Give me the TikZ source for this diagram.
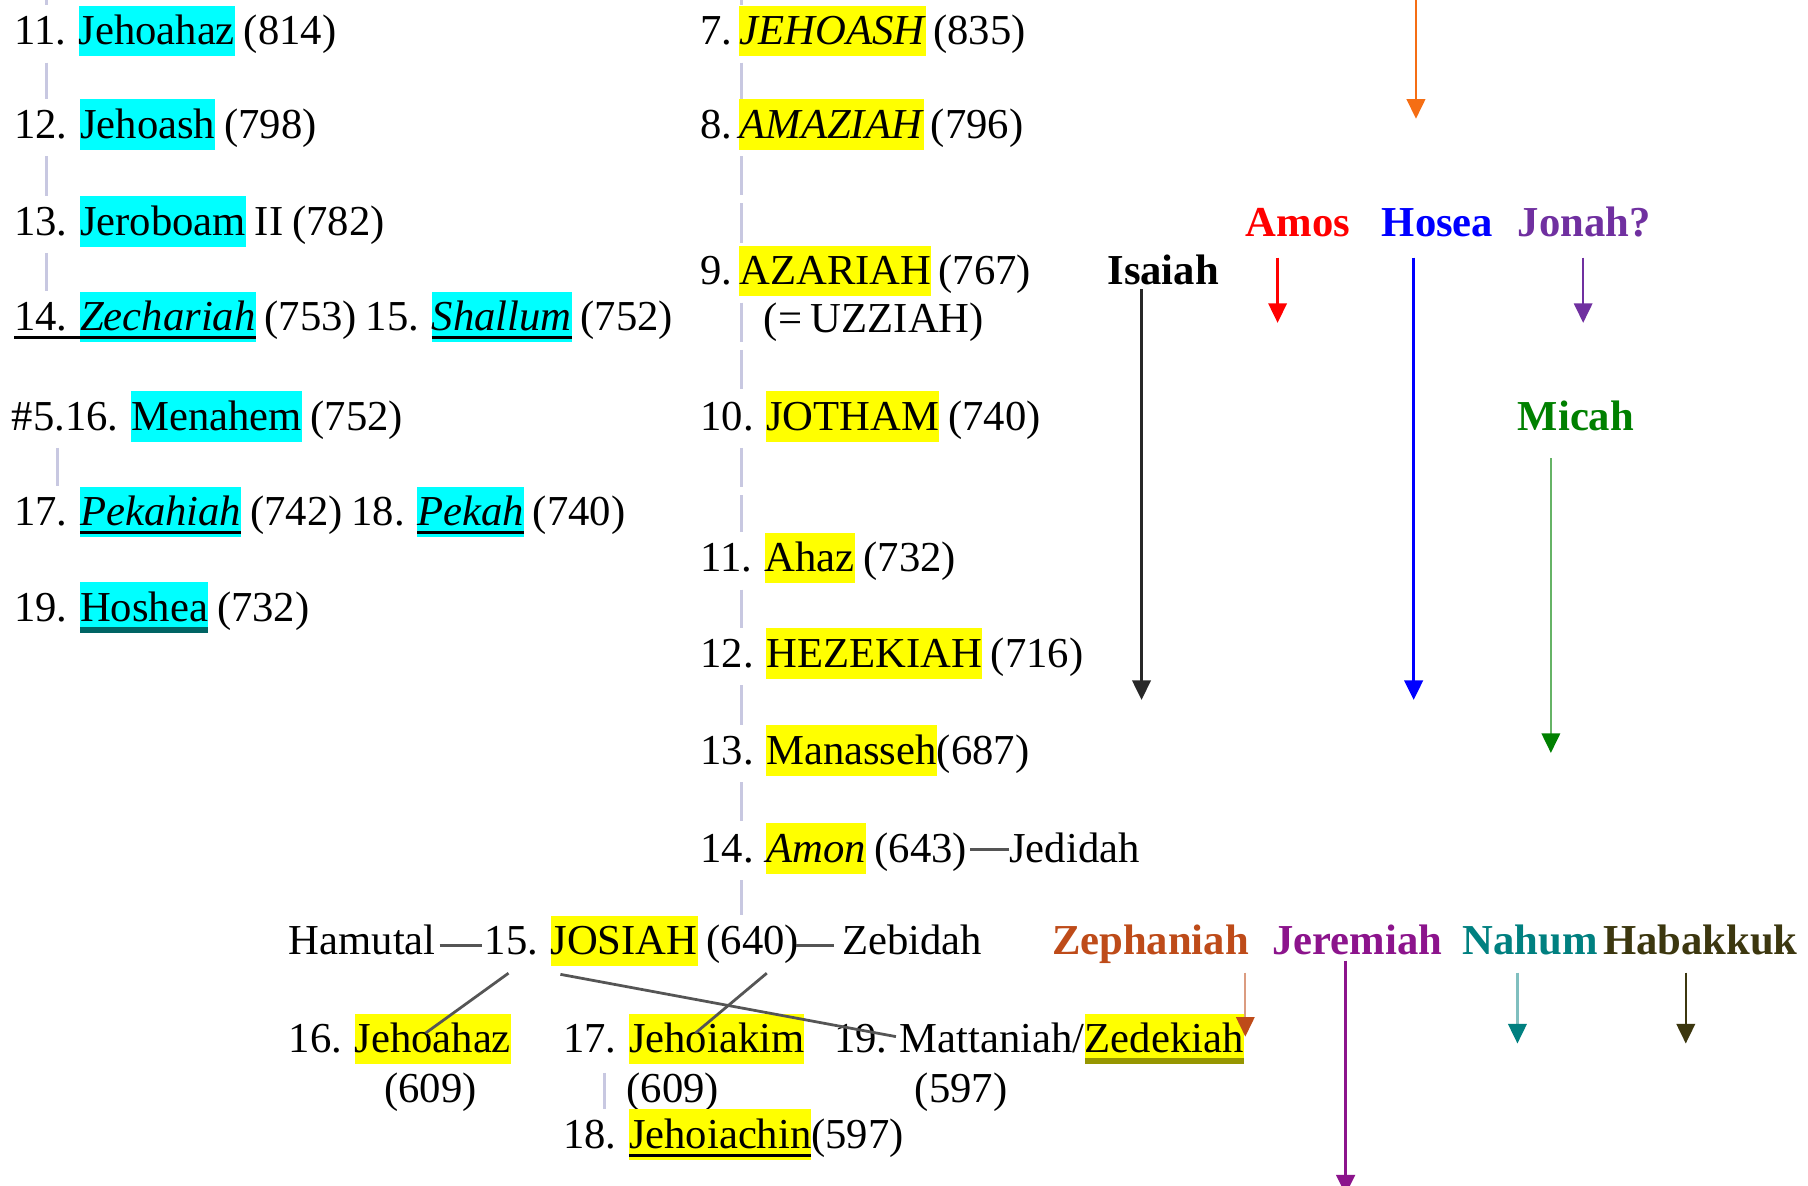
\documentclass[tikz,border=0pt]{standalone}
\usepackage{fontspec}
\setmainfont{Liberation Serif}[WordSpace=0.84]
\usetikzlibrary{arrows.meta,calc}
\definecolor{hlcyan}{RGB}{0,255,255}
\definecolor{hlyel}{RGB}{255,255,0}
\definecolor{spinec}{RGB}{200,200,225}
\definecolor{famc}{RGB}{85,85,85}
\definecolor{orangec}{RGB}{245,110,20}
\definecolor{amosc}{RGB}{255,0,0}
\definecolor{hoseac}{RGB}{0,0,255}
\definecolor{jonahc}{RGB}{112,48,160}
\definecolor{isaiahc}{RGB}{40,40,40}
\definecolor{micahc}{RGB}{0,128,0}
\definecolor{zephc}{RGB}{190,75,25}
\definecolor{jerc}{RGB}{140,20,140}
\definecolor{nahumc}{RGB}{0,128,128}
\definecolor{habc}{RGB}{60,55,15}
\definecolor{hosheaul}{RGB}{0,100,100}
\definecolor{zedul}{RGB}{150,150,0}
\newcommand\hlc[1]{{\setlength\fboxsep{0pt}\colorbox{hlcyan}{\rule[-5pt]{0pt}{22pt}#1}}}
\newcommand\hly[1]{{\setlength\fboxsep{0pt}\colorbox{hlyel}{\rule[-5pt]{0pt}{22pt}#1}}}
\newcommand\ulx[2]{\setbox0\hbox{#2}\copy0\llap{\textcolor{#1}{\rule[-3.6pt]{\wd0}{1.2pt}}}}
\newcommand\ulX[2]{\setbox0\hbox{#2}\copy0\llap{\textcolor{#1}{\rule[-4.8pt]{\wd0}{2.4pt}}}}
\begin{document}
\begin{tikzpicture}[x=0.5pt,y=-0.5pt,
  txt/.style={inner sep=0pt,anchor=base west,text height=17pt,text depth=5pt,font=\fontsize{18.5}{22}\selectfont},
  pro/.style={txt,font=\fontsize{18.5}{22}\selectfont\bfseries},
  spine/.style={draw=spinec,line width=1.4pt,dash pattern=on 17pt off 3.5pt,shorten <=2.5pt},
  kin/.style={draw=spinec,line width=1.4pt,shorten <=2.5pt},
  mline/.style={draw=famc,line width=1.2pt},
  tipb/.style={-{Triangle[width=8pt,length=8.5pt,#1]}},
  parrow/.style={line width=1pt,-{Triangle[width=8pt,length=8.5pt]}}
]
\useasboundingbox (0,0) rectangle (1568,1028);
\fill[white] (0,0) rectangle (1568,1028);

% spine x positions
\coordinate (sl) at (40,0);
\coordinate (sm) at (50,0);
\coordinate (sp) at (643,0);
\coordinate (sk) at (524,0);

% ---- Israel (left column)
\node[txt] (L11) at (12,39) {11. \hlc{Jehoahaz} (814)};
\node[txt] (L12) at (12,120) {12. \hlc{Jehoash} (798)};
\node[txt] (L13) at (12,204) {13. \hlc{Jeroboam} II (782)};
\node[txt] (L14) at (12,287) {\ulx{black}{14. \hlc{\textit{Zechariah}}} (753) 15. \ulx{black}{\hlc{\textit{Shallum}}} (752)};
\node[txt] (L16) at (10,373) {\#5.16. \hlc{Menahem} (752)};
\node[txt] (L17) at (12,456) {17. \ulx{black}{\hlc{\textit{Pekahiah}}} (742) 18. \ulx{black}{\hlc{\textit{Pekah}}} (740)};
\node[txt] (L19) at (12,539) {19. \ulX{hosheaul}{\hlc{Hoshea}} (732)};

\draw[kin,shorten <=0pt] (sl) -- (L11.north -| sl);
\draw[kin] (L11.south -| sl) -- (L12.north -| sl);
\draw[kin] (L12.south -| sl) -- (L13.north -| sl);
\draw[kin] (L13.south -| sl) -- (L14.north -| sl);
\draw[kin] (L16.south -| sm) -- (L17.north -| sm);

% ---- Judah (centre column)
\node[txt] (C7) at (607,39) {7.\,\hly{\textit{JEHOASH}}\,(835)};
\node[txt] (C8) at (607,120) {8.\,\hly{\textit{AMAZIAH}}\,(796)};
\node[txt] (C9) at (607,247) {9.\,\hly{AZARIAH}\,(767)};
\node[txt] (UZZ) at (662,288) {(= UZZIAH)};
\node[txt] (C10) at (607,373) {10. \hly{JOTHAM} (740)};
\node[txt] (C11) at (607,496) {11. \hly{Ahaz} (732)};
\node[txt] (C12) at (607,579) {12. \hly{HEZEKIAH} (716)};
\node[txt] (C13) at (607,663) {13. \hly{Manasseh}(687)};
\node[txt] (C14) at (607,748) {14. \hly{\textit{Amon}} (643)};
\node[txt] (Jed) at (875,748) {Jedidah};
\node[txt] (Ham) at (250,828) {Hamutal};
\node[txt] (J15) at (420,828) {15. \hly{JOSIAH} (640)};
\node[txt] (Zeb) at (730,828) {Zebidah};
\node[txt] (J16) at (250,913) {16. \hly{Jehoahaz}};
\node[txt] (J16y) at (333,956) {(609)};
\node[txt] (J17) at (488,913) {17. \hly{Jehoiakim}};
\node[txt] (J17y) at (543,956) {(609)};
\node[txt] (J18) at (488,996) {18. \ulx{black}{\hly{Jehoiachin}}(597)};
\node[txt] (J19) at (723,913) {19. Mattaniah/\ulX{zedul}{\hly{Zedekiah}}};
\node[txt] (J19y) at (793,956) {(597)};

\draw[spine,shorten <=0pt] (sp) -- (C7.north -| sp);
\draw[spine] (C7.south -| sp) -- (C8.north -| sp);
\draw[spine] (C8.south -| sp) -- (C9.north -| sp);
\draw[spine] (C9.south -| sp) -- (C10.north -| sp);
\draw[spine] (C10.south -| sp) -- (C11.north -| sp);
\draw[spine] (C11.south -| sp) -- (C12.north -| sp);
\draw[spine] (C12.south -| sp) -- (C13.north -| sp);
\draw[spine] (C13.south -| sp) -- (C14.north -| sp);
\draw[spine] (C14.south -| sp) -- (J15.north -| sp);
\draw[kin,shorten <=3.5pt] (J17.south -| sk) -- (J18.north -| sk);

% marriages
\draw[mline] ($(C14.base east)+(2,-11)$) -- ($(Jed.base west)+(0,-11)$);
\draw[mline] ($(Ham.base east)+(3,-8)$) -- ($(J15.base west)+(-2,-8)$);
\draw[mline] ($(J15.base east)+(-3,-8)$) -- ($(Zeb.base west)+(-7,-8)$);

% descent lines from Josiah
\coordinate (d1a) at (441,844); \coordinate (d1b) at (369,896);
\coordinate (d2a) at (486,845); \coordinate (d2b) at (777,899);
\coordinate (d3a) at (665,844); \coordinate (d3b) at (603,896);
\draw[mline] (d1a) -- (d1b);
\draw[mline] (d2a) -- (d2b);
\draw[mline] (d3a) -- (d3b);

% ---- prophets
\node[pro,text=amosc] (Amos) at (1080,205) {Amos};
\node[pro,text=hoseac] (Hosea) at (1198,205) {Hosea};
\node[pro,text=jonahc] (Jonah) at (1316,205) {Jonah?};
\node[pro] (Isaiah) at (960,247) {Isaiah};
\node[pro,text=micahc] (Micah) at (1316,373) {Micah};
\node[pro,text=zephc] (Zeph) at (912,828) {Zephaniah};
\node[pro,text=jerc] (Jer) at (1103,828) {Jeremiah};
\node[pro,text=nahumc] (Nahum) at (1268,828) {Nahum};
\node[pro,text=habc] (Hab) at (1390,828) {Habakkuk};

\coordinate (tO0) at (1228,0); \coordinate (tO) at (1228,103);
\coordinate (tA) at (1108,280);
\coordinate (tH) at (1226,607);
\coordinate (tJo) at (1373,280);
\coordinate (tI) at (990,607);
\coordinate (tM) at (1345,653);
\coordinate (tZ) at (1080,899);
\coordinate (tJ) at (1167,1036);
\coordinate (tN) at (1316,905);
\coordinate (tB) at (1462,905);

\draw[parrow,color=orangec] (tO0) -- (tO);
\draw[parrow,color=amosc] ($(Amos.south -| tA)+(0,8)$) -- (tA);
\draw[parrow,color=hoseac,line width=1.3pt] ($(Hosea.south -| tH)+(0,8)$) -- (tH);
\draw[parrow,color=jonahc] ($(Jonah.south -| tJo)+(0,8)$) -- (tJo);
\draw[parrow,color=isaiahc,line width=1.2pt] ($(Isaiah.base -| tI)+(0,4)$) -- (tI);
\draw[line width=1pt,draw=micahc!60,tipb={color=micahc}] ($(Micah.south -| tM)+(0,14)$) -- (tM);
\draw[line width=0.9pt,draw=zephc!55,tipb={color=zephc}] ($(Zeph.south -| tZ)+(0,5)$) -- (tZ);
\draw[parrow,color=jerc,line width=1.3pt] ($(Jer.base -| tJ)+(0,5)$) -- (tJ);
\draw[line width=1pt,draw=nahumc!50,tipb={color=nahumc}] ($(Nahum.south -| tN)+(0,5)$) -- (tN);
\draw[parrow,color=habc] ($(Hab.south -| tB)+(0,5)$) -- (tB);
\end{tikzpicture}
\end{document}
